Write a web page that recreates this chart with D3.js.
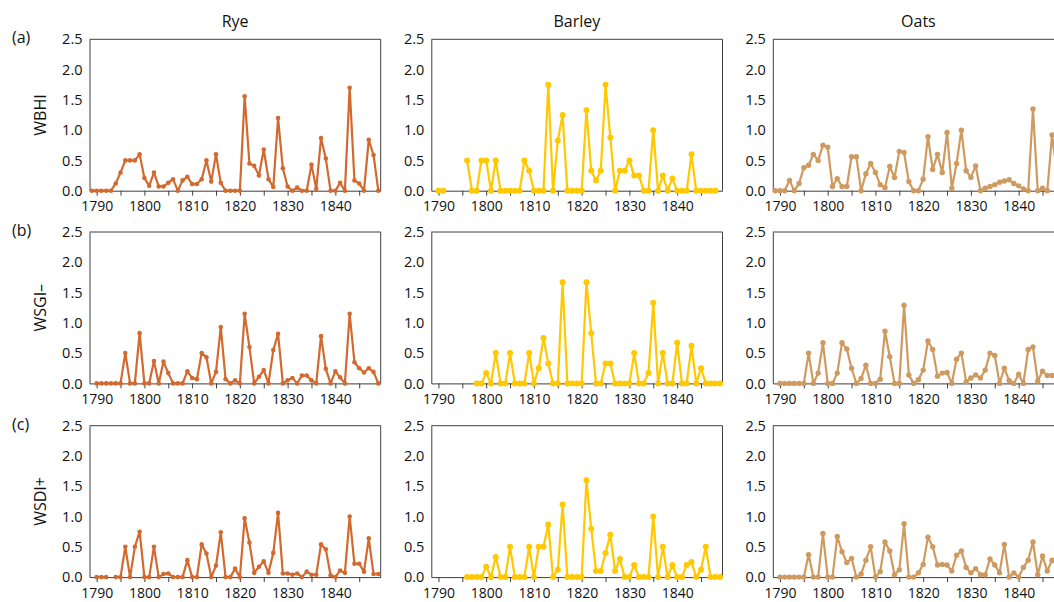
<!DOCTYPE html>
<html>
<head>
<meta charset="utf-8">
<script src="https://cdn.jsdelivr.net/npm/d3@7"></script>
<style>
  html, body { margin: 0; padding: 0; background: #fff; }
  svg { display: block; font-family: "Open Sans", sans-serif; }
</style>
</head>
<body>
<svg id="chart" width="1054" height="602"></svg>
<script>
// ---- data ----
const years = d3.range(1789, 1850); // 1789..1849
const crops = ["Rye", "Barley", "Oats"];
const indices = ["WBHI", "WSGI–", "WSDI+"];
const panelTags = ["(a)", "(b)", "(c)"];
const xTickValues = [1790, 1795, 1800, 1805, 1810, 1815, 1820, 1825, 1830, 1835, 1840, 1845];
const yTickValues = [0, 0.5, 1.0, 1.5, 2.0, 2.5];
const cropColors = ["#D2692F", "#FFC800", "#CF9A60"];

const wbhiRye = [0,0,0,0,0,0.12,0.30,0.5,0.5,0.5,0.6,
  0.21,0.08,0.30,0.07,0.07,0.13,0.19,0,0.17,0.23,
  0.11,0.11,0.19,0.5,0.15,0.6,0.13,0,0,0,
  0,1.56,0.45,0.41,0.25,0.68,0.19,0.06,1.2,0.37,
  0.07,0,0.05,0,0,0.43,0.03,0.87,0.53,0,
  0,0.13,0,1.7,0.17,0.12,0,0.84,0.59,0];
const wbhiBarley = [null,0,0,null,null,null,null,0.5,0,0,0.5,
  0.5,0,0.5,0,0,0,0,0,0.5,0.33,
  0,0,0,1.75,0,0.83,1.25,0,0,0,
  0,1.33,0.33,0.17,0.33,1.75,0.88,0,0.33,0.33,
  0.5,0.25,0.25,0,0,1.0,0,0.25,0,0.2,
  0,0,0,0.6,0,0,0,0,0,null];
const wbhiOats = [0,0,0,0.17,0,0.12,0.38,0.42,0.6,0.5,0.75,
  0.72,0.07,0.2,0.07,0.07,0.56,0.56,0,0.28,0.45,
  0.3,0.1,0.05,0.4,0.22,0.65,0.63,0.15,0,0,
  0.19,0.89,0.35,0.6,0.3,0.96,0.04,0.45,1.0,0.33,
  0.22,0.41,0,0.04,0.07,0.1,0.14,0.16,0.18,0.12,
  0.08,0.03,0,1.35,0,0.04,0,0.92,0.3,0];

const wsgiRye = [null,0,0,0,0,0,0,0.5,0,0,0.83,
  0,0,0.37,0,0.36,0.17,0,0,0,0.2,
  0.09,0.07,0.5,0.43,0,0.19,0.93,0.07,0,0.05,
  0,1.15,0.6,0,0.11,0.22,0,0.55,0.82,0,
  0.05,0.09,0,0.13,0.13,0.05,0,0.78,0.24,0,
  0.2,0.1,0,1.15,0.35,0.25,0.18,0.25,0.19,0];
const wsgiBarley = [null,null,null,null,null,null,null,null,null,0,0,
  0.17,0,0.5,0,0,0.5,0,0,0,0.5,
  0,0.25,0.75,0.33,0,0,1.67,0,0,0,
  0,1.67,0.83,0,0,0.33,0.33,0,0,0,
  0,0.5,0,0,0.17,1.33,0,0.5,0,0,
  0.67,0,0,0.62,0,0.25,0,0,0,0];
const wsgiOats = [null,0,0,0,0,0,0,0.5,0,0.17,0.67,
  0,0,0.17,0.67,0.57,0.25,0,0.08,0.3,0,
  0,0.07,0.86,0.44,0,0,1.29,0.14,0,0.06,
  0.22,0.7,0.56,0.12,0.17,0.18,0,0.4,0.5,0.03,
  0.09,0.14,0.09,0.22,0.5,0.46,0,0.25,0.05,0,
  0.15,0,0.56,0.6,0.04,0.2,0.13,0.13,0.13,0.1];

const wsdiRye = [null,0,0,0,null,0,0,0.5,0,0.5,0.75,
  0,0,0.5,0,0.05,0.06,0,0,0,0.28,
  0,0,0.54,0.39,0,0.19,0.74,0,0,0.14,
  0,0.97,0.57,0.07,0.17,0.26,0.07,0.4,1.06,0.06,
  0.06,0.04,0.06,0,0.09,0.04,0.04,0.54,0.46,0.03,
  0,0.11,0.07,1.0,0.22,0.22,0.09,0.64,0.05,0.05];
const wsdiBarley = [null,null,null,null,null,null,null,0,0,0,0,
  0.17,0,0.33,0,0,0.5,0,0,0,0.5,
  0,0.5,0.5,0.87,0,0.12,1.2,0,0,0,
  0,1.6,0.8,0.1,0.1,0.4,0.7,0.1,0.3,0,
  0,0.2,0,0,0,1.0,0,0.5,0,0.2,
  0,0,0.2,0.25,0,0.12,0.5,0,0,0];
const wsdiOats = [null,0,0,0,0,0,0,0.37,0,0,0.72,
  0,0,0.67,0.42,0.24,0.31,0,0.05,0.28,0.5,
  0,0.09,0.58,0.43,0.04,0.12,0.88,0,0,0.07,
  0.21,0.66,0.5,0.2,0.21,0.2,0.1,0.36,0.43,0.16,
  0.07,0.14,0.04,0.04,0.3,0.2,0.07,0.54,0,0.07,
  0,0.16,0.28,0.58,0.04,0.35,0.1,0.28,0.2,0.1];

const seriesGrid = [
  [wbhiRye, wbhiBarley, wbhiOats],
  [wsgiRye, wsgiBarley, wsgiOats],
  [wsdiRye, wsdiBarley, wsdiOats]
];

// ---- layout ----
const colLeft = [89.5, 431.3, 772.8];
const rowTop = [39.3, 232.0, 425.7];
const pw = 291.2, ph = 151.4;
const markerR = [2.3, 3.0, 2.7];
const axisColor = "#3f3f3f";

const svg = d3.select("#chart");

crops.forEach((crop, c) => {
  svg.append("text")
    .attr("x", colLeft[c] + pw / 2).attr("y", 27)
    .attr("text-anchor", "middle")
    .attr("font-size", 16).attr("fill", "#111")
    .text(crop);
});

indices.forEach((idx, r) => {
  svg.append("text")
    .attr("x", 12).attr("y", rowTop[r] + 4)
    .attr("font-size", 16).attr("fill", "#111")
    .text(panelTags[r]);
  svg.append("text")
    .attr("transform", `translate(46,${rowTop[r] + ph / 2}) rotate(-90)`)
    .attr("text-anchor", "middle")
    .attr("font-size", 16).attr("fill", "#111")
    .text(idx);

  crops.forEach((crop, c) => {
    const x = d3.scaleLinear().domain([1788.5, 1849.5]).range([colLeft[c], colLeft[c] + pw]);
    const y = d3.scaleLinear().domain([0, 2.5]).range([rowTop[r] + ph, rowTop[r]]);
    const g = svg.append("g");

    // frame (top and right)
    g.append("path")
      .attr("d", `M${x.range()[0]},${y(2.5)}H${x.range()[1]}V${y(0)}`)
      .attr("fill", "none").attr("stroke", axisColor).attr("stroke-width", 1);

    const xAxis = d3.axisBottom(x).tickValues(xTickValues).tickSize(5).tickSizeOuter(0)
      .tickFormat(d => d % 10 === 0 ? d : "");
    const gx = g.append("g").attr("transform", `translate(0,${y(0)})`).call(xAxis);
    gx.select(".domain").attr("stroke", axisColor);
    gx.selectAll(".tick line").attr("stroke", axisColor);
    gx.selectAll(".tick text").attr("font-size", 14).attr("fill", "#111")
      .attr("font-family", "Open Sans, sans-serif").attr("dy", "0.9em");

    const yAxis = d3.axisLeft(y).tickValues(yTickValues).tickSize(0).tickPadding(7)
      .tickFormat(d3.format(".1f"));
    const gy = g.append("g").attr("transform", `translate(${x.range()[0]},0)`).call(yAxis);
    gy.select(".domain").attr("stroke", axisColor);
    gy.selectAll(".tick text").attr("font-size", 14.5).attr("fill", "#111")
      .attr("font-family", "Open Sans, sans-serif");

    const vals = seriesGrid[r][c];
    const pts = years.map((yr, i) => ({ yr, v: vals[i] }));
    const line = d3.line().defined(d => d.v != null).x(d => x(d.yr)).y(d => y(d.v));
    g.append("path").datum(pts)
      .attr("d", line)
      .attr("fill", "none").attr("stroke", cropColors[c]).attr("stroke-width", 2.2)
      .attr("stroke-linejoin", "round");
    g.selectAll("circle").data(pts.filter(d => d.v != null)).join("circle")
      .attr("cx", d => x(d.yr)).attr("cy", d => y(d.v)).attr("r", markerR[c])
      .attr("fill", cropColors[c]);
  });
});
</script>
</body>
</html>
